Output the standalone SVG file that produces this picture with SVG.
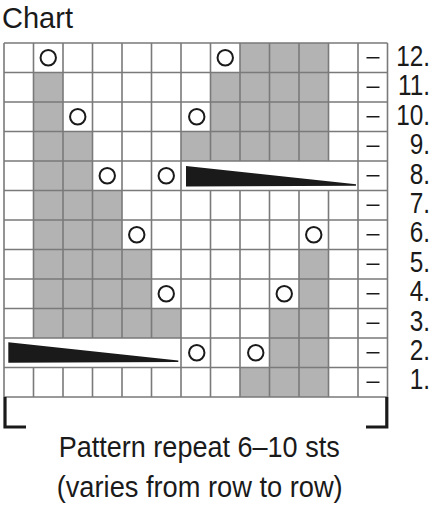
<svg xmlns="http://www.w3.org/2000/svg" width="432" height="509" viewBox="0 0 432 509">
<style>
.g{fill:#b3b3b3}
.grid{fill:none;stroke:#7a7a7a;stroke-width:1.6}
.yo{fill:none;stroke:#1a1a1a;stroke-width:2}
.ds{stroke:#1a1a1a;stroke-width:1.6}
.wd{fill:#1a1a1a}
.br{fill:none;stroke:#1a1a1a;stroke-width:3.2}
.num{font-family:"Liberation Sans",Arial,sans-serif;font-size:29px;fill:#1a1a1a;text-anchor:end}
.cap{font-family:"Liberation Sans",Arial,sans-serif;font-size:30px;fill:#1a1a1a;text-anchor:middle}
.ttl{font-family:"Liberation Sans",Arial,sans-serif;font-size:29px;fill:#1a1a1a}
</style>
<rect width="432" height="509" fill="#fff"/>
<text id="title" class="ttl" x="2" y="27.5" textLength="71" lengthAdjust="spacingAndGlyphs">Chart</text>
<g id="shading">
<rect class="g" x="240" y="43" width="88.5" height="29.5"/>
<rect class="g" x="33.5" y="72.5" width="29.5" height="59"/>
<rect class="g" x="210.5" y="72.5" width="118" height="59"/>
<rect class="g" x="33.5" y="131.5" width="59" height="59"/>
<rect class="g" x="181" y="131.5" width="147.5" height="29.5"/>
<rect class="g" x="33.5" y="190.5" width="88.5" height="59"/>
<rect class="g" x="33.5" y="249.5" width="118" height="59"/>
<rect class="g" x="299" y="249.5" width="29.5" height="59"/>
<rect class="g" x="33.5" y="308.5" width="147.5" height="29.5"/>
<rect class="g" x="269.5" y="308.5" width="59" height="59"/>
<rect class="g" x="240" y="367.5" width="88.5" height="29.5"/>
</g>
<g id="grid">
<path class="grid" d="M4,43H387.5M4,72.5H387.5M4,102H387.5M4,131.5H387.5M4,161H387.5M4,190.5H387.5M4,220H387.5M4,249.5H387.5M4,279H387.5M4,308.5H387.5M4,338H387.5M4,367.5H387.5M4,397H387.5"/>
<path class="grid" d="M4,43V397M181,43V397M358,43V397M387.5,43V397M33.5,43V338M33.5,367.5V397M63,43V338M63,367.5V397M92.5,43V338M92.5,367.5V397M122,43V338M122,367.5V397M151.5,43V338M151.5,367.5V397M210.5,43V161M210.5,190.5V397M240,43V161M240,190.5V397M269.5,43V161M269.5,190.5V397M299,43V161M299,190.5V397M328.5,43V161M328.5,190.5V397"/>
</g>
<g id="yarnovers">
<circle class="yo" cx="48.25" cy="57.75" r="7.7"/>
<circle class="yo" cx="225.25" cy="57.75" r="7.7"/>
<circle class="yo" cx="77.75" cy="116.75" r="7.7"/>
<circle class="yo" cx="196.75" cy="116.75" r="7.7"/>
<circle class="yo" cx="107.25" cy="175.75" r="7.7"/>
<circle class="yo" cx="166.25" cy="175.75" r="7.7"/>
<circle class="yo" cx="136.75" cy="234.75" r="7.7"/>
<circle class="yo" cx="313.75" cy="234.75" r="7.7"/>
<circle class="yo" cx="166.25" cy="293.75" r="7.7"/>
<circle class="yo" cx="284.25" cy="293.75" r="7.7"/>
<circle class="yo" cx="196.75" cy="352.75" r="7.7"/>
<circle class="yo" cx="255.75" cy="352.75" r="7.7"/>
</g>
<g id="wedges">
<polygon class="wd" points="186,166 356,184.3 356,185.8 186,186.5"/>
<polygon class="wd" points="8.3,342.3 178.3,360.6 178.3,362 8.3,362.7"/>
</g>
<g id="dashes">
<path class="ds" d="M366.5,57.75H379.5M366.5,87.25H379.5M366.5,116.75H379.5M366.5,146.25H379.5M366.5,175.75H379.5M366.5,205.25H379.5M366.5,234.75H379.5M366.5,264.25H379.5M366.5,293.75H379.5M366.5,323.25H379.5M366.5,352.75H379.5M366.5,382.25H379.5"/>
</g>
<g id="row-numbers">
<text class="num" transform="translate(430,66) scale(0.84,1)">12.</text>
<text class="num" transform="translate(430,95.4) scale(0.84,1)">11.</text>
<text class="num" transform="translate(430,124.8) scale(0.84,1)">10.</text>
<text class="num" transform="translate(430,154.2) scale(0.84,1)">9.</text>
<text class="num" transform="translate(430,183.6) scale(0.84,1)">8.</text>
<text class="num" transform="translate(430,213) scale(0.84,1)">7.</text>
<text class="num" transform="translate(430,242.4) scale(0.84,1)">6.</text>
<text class="num" transform="translate(430,271.8) scale(0.84,1)">5.</text>
<text class="num" transform="translate(430,301.2) scale(0.84,1)">4.</text>
<text class="num" transform="translate(430,330.6) scale(0.84,1)">3.</text>
<text class="num" transform="translate(430,360) scale(0.84,1)">2.</text>
<text class="num" transform="translate(430,389.4) scale(0.84,1)">1.</text>
</g>
<g id="bracket">
<path class="br" d="M5,397V427H26"/>
<path class="br" d="M386.8,397V427H366"/>
</g>
<g id="caption">
<text class="cap" x="199.2" y="457" textLength="281" lengthAdjust="spacingAndGlyphs">Pattern repeat 6–10 sts</text>
<text class="cap" x="199.7" y="496.5" textLength="286" lengthAdjust="spacingAndGlyphs">(varies from row to row)</text>
</g>
</svg>
